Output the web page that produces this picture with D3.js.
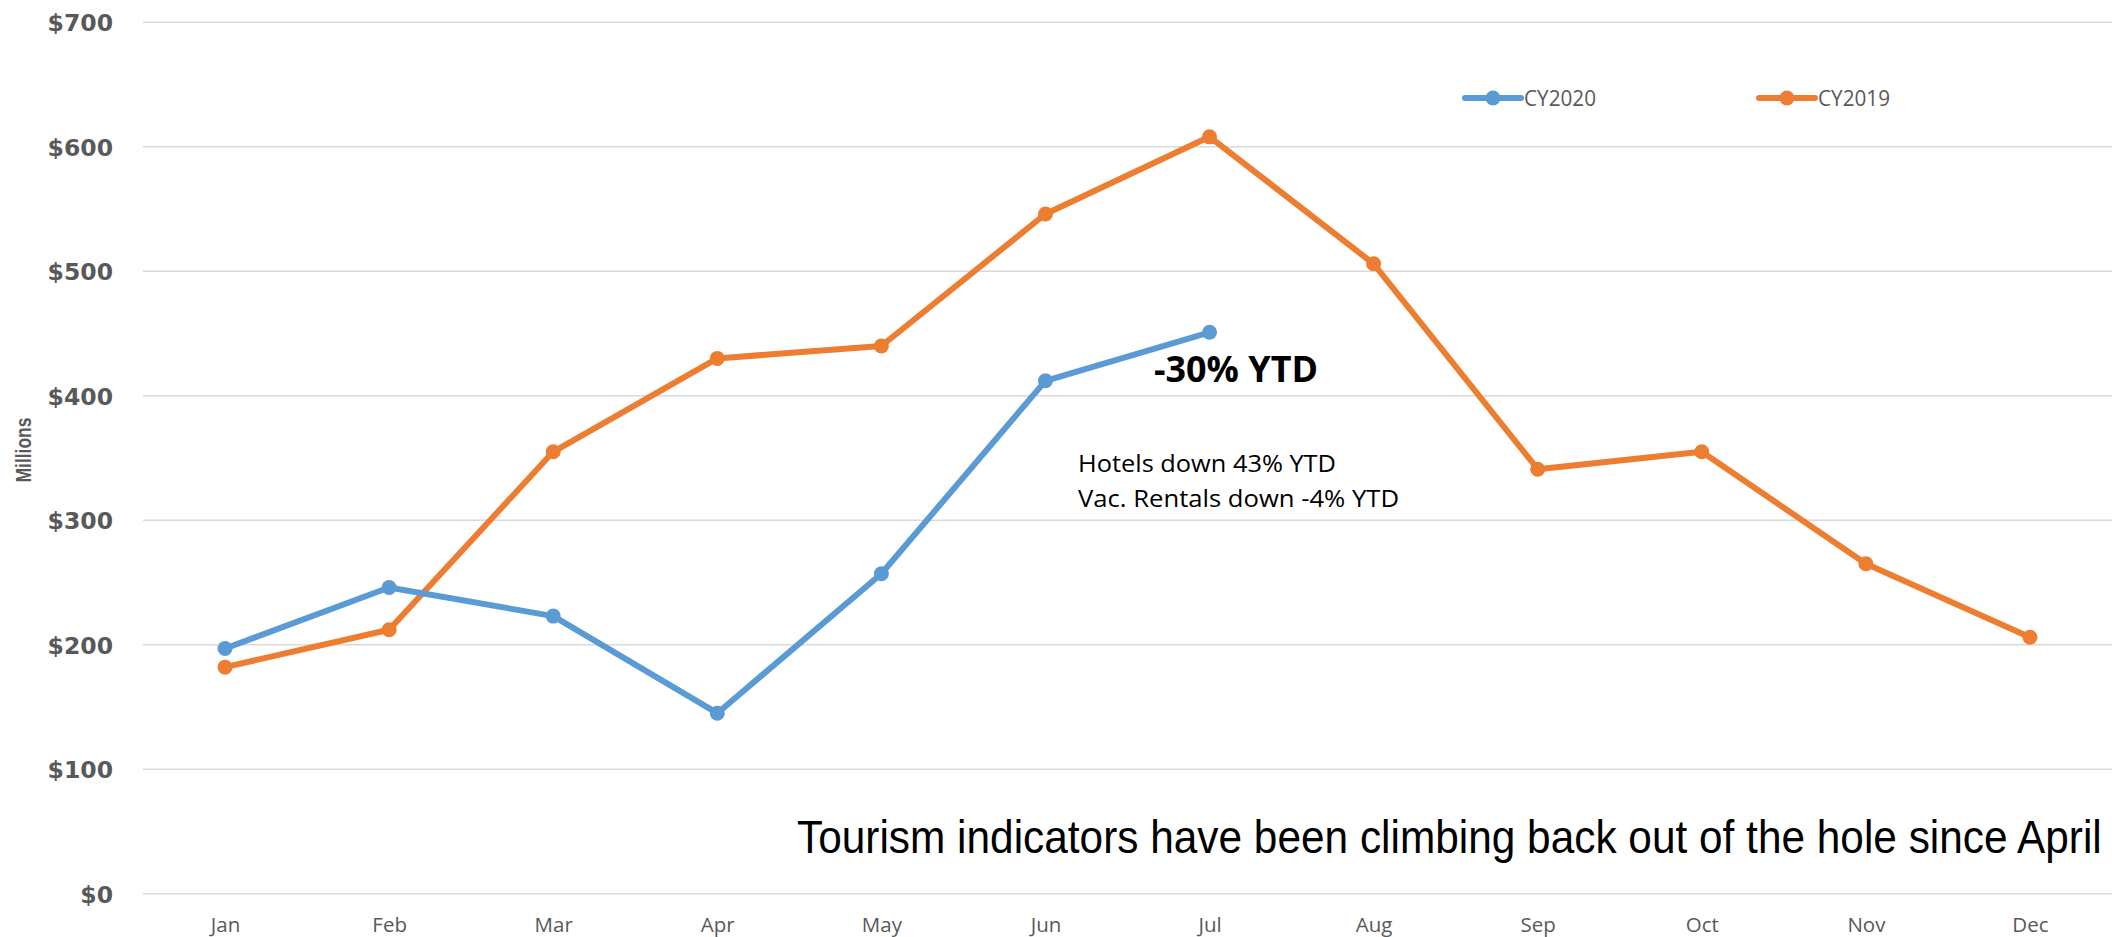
<!DOCTYPE html>
<html>
<head>
<meta charset="utf-8">
<script src="https://cdn.jsdelivr.net/npm/d3@7"></script>
<style>
  html, body { margin: 0; padding: 0; background: #fff; }
  svg { display: block; }
</style>
</head>
<body>
<svg id="chart" width="2115" height="937"></svg>
<script>
// Monthly tourism spending, millions of dollars
const months = ["Jan", "Feb", "Mar", "Apr", "May", "Jun", "Jul", "Aug", "Sep", "Oct", "Nov", "Dec"];
const cy2020 = [197, 246, 223, 145, 257, 412, 451];
const cy2019 = [182, 212, 355, 430, 440, 546, 608, 506, 341, 355, 265, 206];
const yTicks = [0, 100, 200, 300, 400, 500, 600, 700];

const series = [
  { name: "CY2020", values: cy2020, color: "#5B9BD5" },
  { name: "CY2019", values: cy2019, color: "#ED7D31" }
];

const svg = d3.select("#chart");
const plotLeft = 143, plotRight = 2112, plotTop = 22.3, plotBottom = 893.7;

const x = d3.scalePoint().domain(months).range([plotLeft, plotRight]).padding(0.5);
const y = d3.scaleLinear().domain([0, 700]).range([plotBottom, plotTop]);

// horizontal gridlines
svg.append("g")
  .selectAll("line")
  .data(yTicks)
  .join("line")
  .attr("x1", plotLeft).attr("x2", plotRight)
  .attr("y1", d => y(d)).attr("y2", d => y(d))
  .attr("stroke", "#D9D9D9")
  .attr("stroke-width", 1.6);

// y axis labels
const yAxis = d3.axisLeft(y).tickValues(yTicks).tickSize(0).tickPadding(0)
  .tickFormat(d => "$" + d);
svg.append("g")
  .attr("transform", `translate(113,0)`)
  .call(yAxis)
  .call(g => g.select(".domain").remove())
  .call(g => g.selectAll("text")
    .attr("fill", "#595959")
    .attr("font-family", "DejaVu Sans")
    .attr("font-weight", "bold")
    .attr("font-size", 23.5)
    .attr("dy", "0.36em"));

// x axis labels
const xAxis = d3.axisBottom(x).tickSize(0).tickPadding(0);
svg.append("g")
  .attr("transform", `translate(0,${plotBottom})`)
  .call(xAxis)
  .call(g => g.select(".domain").remove())
  .call(g => g.selectAll("text")
    .attr("fill", "#595959")
    .attr("font-family", "Open Sans")
    .attr("font-size", 20.5)
    .attr("dy", 0)
    .attr("y", 38));

// axis title
svg.append("text")
  .attr("transform", "translate(31,450) rotate(-90)")
  .attr("text-anchor", "middle")
  .attr("font-family", "Liberation Sans")
  .attr("font-weight", "bold")
  .attr("font-size", 22)
  .attr("fill", "#595959")
  .attr("textLength", 65)
  .attr("lengthAdjust", "spacingAndGlyphs")
  .text("Millions");

// lines and markers
const line = d3.line().x((d, i) => x(months[i])).y(d => y(d));
series.slice().reverse().forEach(s => {
  const g = svg.append("g");
  g.append("path")
    .datum(s.values)
    .attr("d", line)
    .attr("fill", "none")
    .attr("stroke", s.color)
    .attr("stroke-width", 6)
    .attr("stroke-linejoin", "round")
    .attr("stroke-linecap", "round");
  g.selectAll("circle")
    .data(s.values)
    .join("circle")
    .attr("cx", (d, i) => x(months[i]))
    .attr("cy", d => y(d))
    .attr("r", 7.5)
    .attr("fill", s.color);
});

// legend
const legendPos = [{ x0: 1465, text: 1524 }, { x0: 1759, text: 1818 }];
series.forEach((s, i) => {
  const p = legendPos[i];
  const g = svg.append("g");
  g.append("line")
    .attr("x1", p.x0).attr("x2", p.x0 + 56)
    .attr("y1", 98).attr("y2", 98)
    .attr("stroke", s.color).attr("stroke-width", 6)
    .attr("stroke-linecap", "round");
  g.append("circle")
    .attr("cx", p.x0 + 28).attr("cy", 98).attr("r", 7.5)
    .attr("fill", s.color);
  g.append("text")
    .attr("x", p.text).attr("y", 98).attr("dy", "0.36em")
    .attr("font-family", "Open Sans")
    .attr("font-size", 21)
    .attr("fill", "#595959")
    .attr("textLength", 72)
    .attr("lengthAdjust", "spacingAndGlyphs")
    .text(s.name);
});

// annotations
svg.append("text")
  .attr("x", 1154).attr("y", 382)
  .attr("font-family", "Open Sans")
  .attr("font-weight", "bold")
  .attr("font-size", 35)
  .attr("fill", "#000")
  .attr("textLength", 164)
  .attr("lengthAdjust", "spacingAndGlyphs")
  .text("-30% YTD");

svg.append("text")
  .attr("x", 1078).attr("y", 472)
  .attr("font-family", "Open Sans")
  .attr("font-size", 24)
  .attr("fill", "#000")
  .attr("textLength", 258)
  .attr("lengthAdjust", "spacingAndGlyphs")
  .text("Hotels down 43% YTD");

svg.append("text")
  .attr("x", 1078).attr("y", 507)
  .attr("font-family", "Open Sans")
  .attr("font-size", 24)
  .attr("fill", "#000")
  .attr("textLength", 321)
  .attr("lengthAdjust", "spacingAndGlyphs")
  .text("Vac. Rentals down -4% YTD");

// headline, condensed horizontally to a fixed width
const headline = svg.append("text")
  .attr("font-family", "Liberation Sans")
  .attr("font-size", 46)
  .attr("fill", "#000")
  .text("Tourism indicators have been climbing back out of the hole since April");
const natural = headline.node().getComputedTextLength();
const squeeze = 1305 / natural;
headline.attr("transform", `translate(797,853) scale(${squeeze},1)`);
</script>
</body>
</html>
